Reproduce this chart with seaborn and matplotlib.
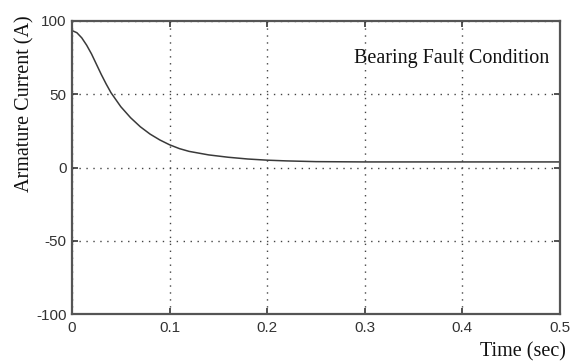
import numpy as np
import pandas as pd
import matplotlib
matplotlib.use("Agg")
import matplotlib.pyplot as plt
import seaborn as sns

time_sec = [0.0, 0.005, 0.01, 0.015, 0.02, 0.025, 0.03, 0.035, 0.04, 0.05, 0.06, 0.07,
            0.08, 0.09, 0.10, 0.11, 0.12, 0.14, 0.16, 0.18, 0.20, 0.22, 0.25, 0.30,
            0.40, 0.50]
current_a = [93.5, 92.0, 88.5, 83.5, 77.5, 70.5, 63.5, 57.0, 51.0, 41.5, 34.0, 27.8,
             22.8, 18.8, 15.5, 12.9, 11.0, 8.6, 7.0, 5.8, 5.0, 4.5, 4.0, 3.8,
             3.8, 3.8]
x_ticks = [0, 0.1, 0.2, 0.3, 0.4, 0.5]
x_tick_labels = ["0", "0.1", "0.2", "0.3", "0.4", "0.5"]
y_ticks = [-100, -50, 0, 50, 100]
y_tick_labels = ["-100", "-50", "0", "50", "100"]

df = pd.DataFrame({"t": time_sec, "i": current_a})

sns.set_style("ticks")
plt.rcParams["font.family"] = ["Liberation Serif", "DejaVu Serif"]

fig = plt.figure(figsize=(5.79, 3.62), dpi=100)
ax = fig.add_axes([72 / 579, 1 - 314 / 362, (560 - 72) / 579, (314 - 21) / 362])

sns.lineplot(data=df, x="t", y="i", ax=ax, color="#3a3a3a", linewidth=1.1)

ax.set_xlim(0, 0.5)
ax.set_ylim(-100, 100)
ax.set_xticks(x_ticks)
ax.set_xticklabels(x_tick_labels, family=["Liberation Sans", "DejaVu Sans"], fontsize=11)
ax.set_yticks(y_ticks)
ax.set_yticklabels(y_tick_labels, family=["Liberation Sans", "DejaVu Sans"], fontsize=11)
ax.tick_params(direction="in", length=4, width=1.2, top=True, right=True,
               colors="#333333", labelcolor="#333333")
ax.tick_params(axis="x", pad=5)
ax.tick_params(axis="y", pad=4)
ax.grid(True, color="#444444", linestyle=(0, (1, 4)), linewidth=1.0)
for s in ax.spines.values():
    s.set_color("#555555")
    s.set_linewidth(1.6)

ax.set_xlabel("")
ax.set_ylabel("")
fig.text(25 / 579, 1 - 104 / 362, "Armature Current (A)", rotation=90,
         ha="center", va="center", fontsize=14.5, color="#111111")
fig.text(566 / 579, 1 - 352 / 362, "Time (sec)", ha="right", va="center",
         fontsize=14.5, color="#111111")
ax.text(549 / 579, 1 - 58 / 362, "Bearing Fault Condition", transform=fig.transFigure,
        ha="right", va="center", fontsize=14.5, color="#111111")

fig.savefig("out.png", dpi=100)
